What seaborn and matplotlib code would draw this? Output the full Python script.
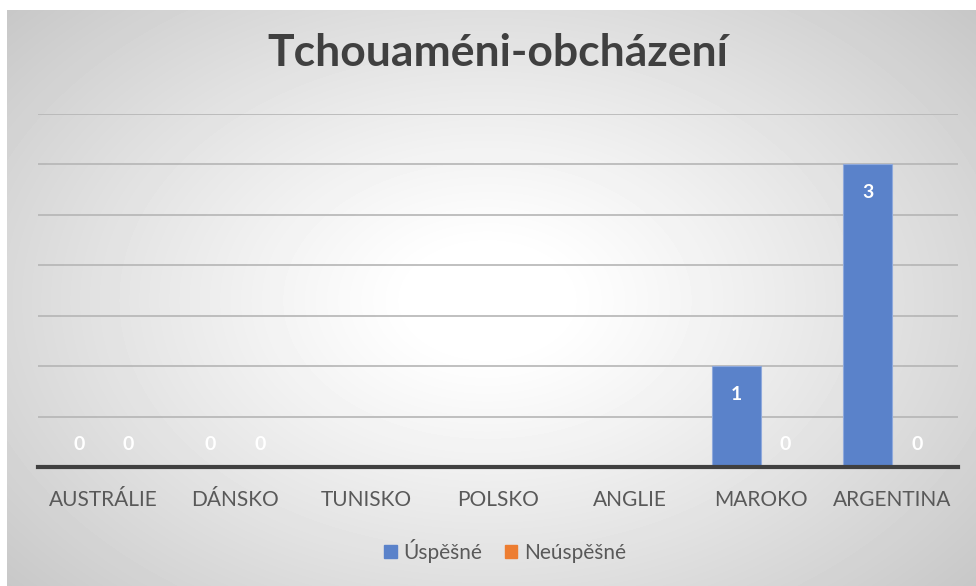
import matplotlib
matplotlib.use("Agg")
import matplotlib.pyplot as plt
import numpy as np
import pandas as pd
import seaborn as sns

countries = ['AUSTRÁLIE', 'DÁNSKO', 'TUNISKO', 'POLSKO', 'ANGLIE', 'MAROKO', 'ARGENTINA']
uspesne = [0, 0, np.nan, np.nan, np.nan, 1, 3]
neuspesne = [0, 0, np.nan, np.nan, np.nan, 0, 0]
series = ['Úspěšné', 'Neúspěšné']
colors = ['#5A82CA', '#ED7D31']

df = pd.DataFrame({'Země': countries, 'Úspěšné': uspesne, 'Neúspěšné': neuspesne})
df = df.melt(id_vars='Země', var_name='Výsledek', value_name='Počet').dropna()

sns.set_style("white")
plt.rcParams['font.family'] = ['Lato', 'DejaVu Sans']

fig = plt.figure(figsize=(9.76, 5.86), dpi=100)
fig.patch.set_facecolor('white')

# radial gradient panel behind the chart
bg = fig.add_axes([7 / 976, 0, 1 - 7 / 976, 1 - 10 / 586], zorder=0)
yy, xx = np.mgrid[0:576, 0:969]
r = np.sqrt(((xx - 480) / 620) ** 2 + ((yy - 290) / 420) ** 2)
shade = 1 - 0.24 * np.clip(r - 0.12, 0, 1) ** 1.1
bg.imshow(shade, cmap='gray', vmin=0, vmax=1, aspect='auto', interpolation='bilinear')
bg.axis('off')

ax = fig.add_axes([38 / 976, 1 - 467 / 586, 920 / 976, (467 - 114) / 586], zorder=1)
ax.patch.set_alpha(0)
sns.barplot(data=df, x='Země', y='Počet', hue='Výsledek', order=countries,
            hue_order=series, palette=colors, saturation=1, width=0.75, ax=ax,
            edgecolor='#8fa9dc', linewidth=0.8, legend=False)

ax.set_ylim(0, 3.5)
ax.set_xlim(-0.5, len(countries) - 0.5)
ax.set_yticks(np.arange(0.5, 3.6, 0.5))
ax.yaxis.grid(True, color='#b5b5b5', linewidth=1.2)
ax.set_axisbelow(True)
ax.tick_params(axis='y', left=False, labelleft=False)
ax.tick_params(axis='x', bottom=False, labelsize=15, labelcolor='#595959', pad=13)
for s in ['top', 'right', 'left']:
    ax.spines[s].set_visible(False)
ax.spines['bottom'].set_color('#404040')
ax.spines['bottom'].set_linewidth(3)
ax.set_xlabel('')
ax.set_ylabel('')

for p in ax.patches:
    h = p.get_height()
    if np.isnan(h):
        continue
    xc = p.get_x() + p.get_width() / 2
    off = -28 if h > 0 else 22
    ax.annotate(f'{int(h)}', (xc, h), xytext=(0, off), textcoords='offset pixels',
                ha='center', va='center', color='white', fontsize=14, fontweight='bold')

fig.text(0.51, 1 - 53 / 586, 'Tchouaméni-obcházení', ha='center', va='center',
         fontsize=32, fontweight='bold', color='#404040')

handles = [plt.Rectangle((0, 0), 1, 1, color=c) for c in colors]
fig.legend(handles, series, loc='center', bbox_to_anchor=(505 / 976, 1 - 551 / 586),
           ncol=2, frameon=False, fontsize=15, labelcolor='#595959',
           handlelength=0.6, handleheight=0.6, handletextpad=0.3, columnspacing=1.1)

fig.savefig('out.png', dpi=100)
